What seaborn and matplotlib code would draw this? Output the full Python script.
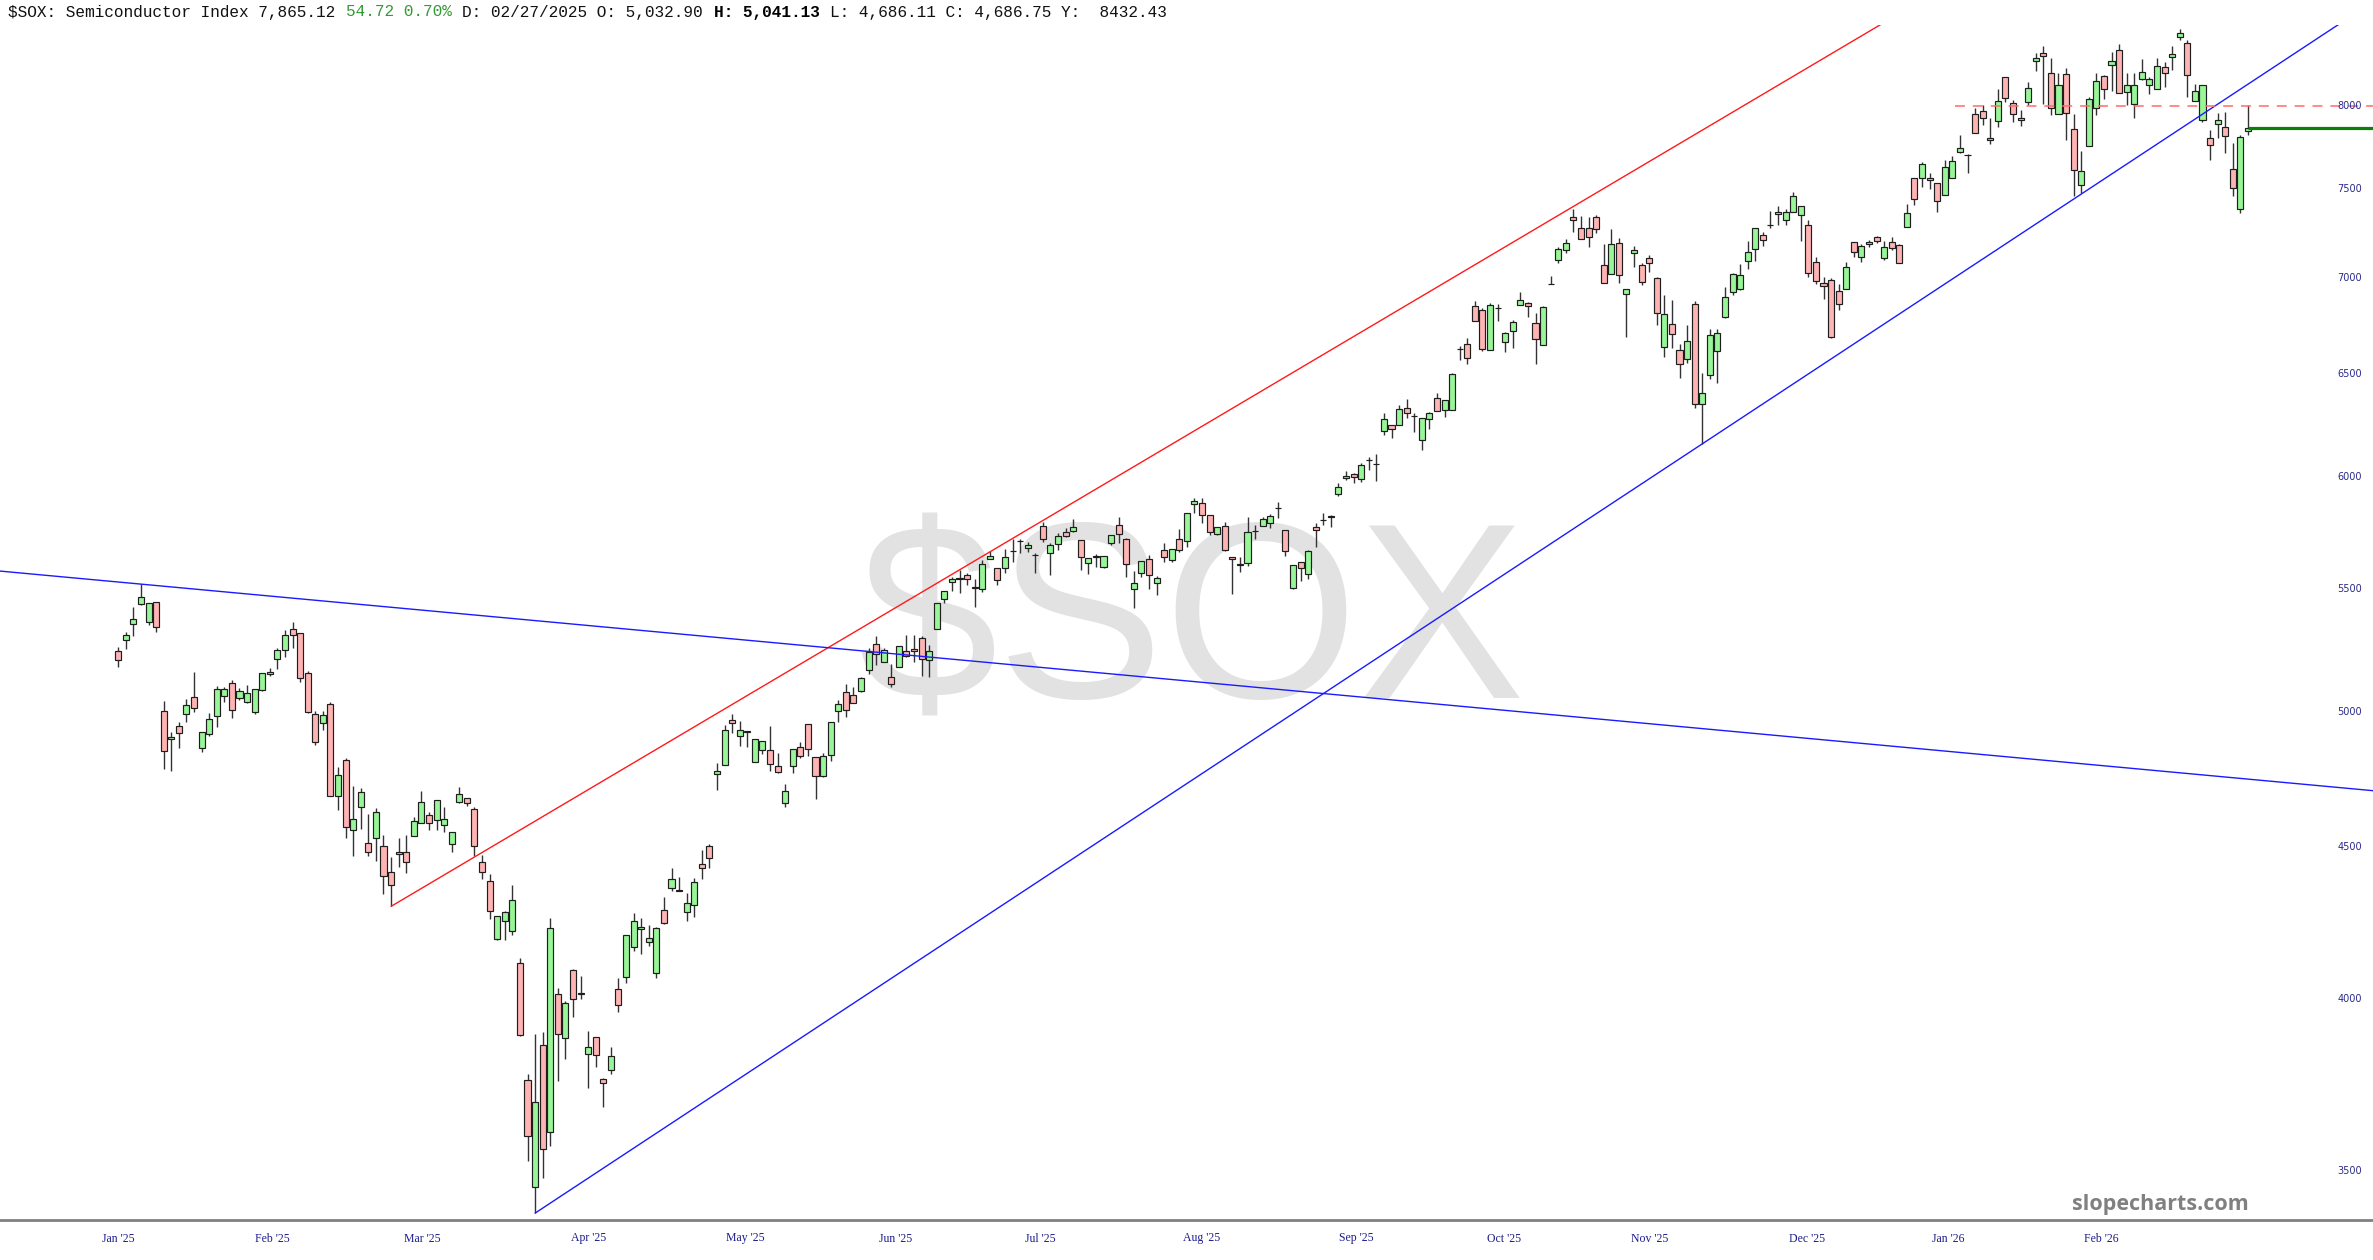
import numpy as np
import matplotlib
matplotlib.use("Agg")
import matplotlib.pyplot as plt
import matplotlib.transforms as mtransforms
from matplotlib.ticker import NullLocator
import seaborn as sns

# daily OHLC of $SOX (one value per trading day)
opens = [
    5242, 5286, 5353, 5434, 5362, 5444, 5003, 4893, 4945, 4991,
    5055, 4862, 4913, 4984, 5060, 5111, 5054, 5038, 4999, 5084,
    5147, 5207, 5244, 5333, 5316, 5150, 4989, 4955, 5029, 4682,
    4814, 4561, 4643, 4515, 4531, 4505, 4413, 4485, 4482, 4541,
    4585, 4613, 4597, 4577, 4512, 4660, 4676, 4637, 4448, 4384,
    4190, 4251, 4215, 4112, 3756, 3456, 3860, 3606, 4016, 3879,
    4091, 4019, 3833, 3884, 3758, 3785, 4030, 4068, 4164, 4224,
    4181, 4080, 4285, 4360, 4352, 4278, 4301, 4441, 4506, 4765,
    4795, 4968, 4906, 4925, 4809, 4852, 4853, 4794, 4656, 4793,
    4864, 4952, 4825, 4757, 4833, 5002, 5075, 5063, 5080, 5165,
    5270, 5197, 5137, 5175, 5240, 5248, 5293, 5204, 5331, 5457,
    5527, 5542, 5560, 5505, 5497, 5630, 5590, 5588, 5663, 5706,
    5675, 5648, 5775, 5656, 5694, 5749, 5752, 5711, 5612, 5640,
    5594, 5700, 5779, 5717, 5497, 5570, 5629, 5523, 5668, 5624,
    5717, 5707, 5875, 5881, 5826, 5738, 5775, 5639, 5606, 5610,
    5752, 5776, 5787, 5855, 5755, 5504, 5614, 5563, 5771, 5801,
    5821, 5919, 6005, 6013, 5989, 6077, 6060, 6216, 6244, 6245,
    6330, 6288, 6173, 6276, 6376, 6319, 6319, 6624, 6651, 6850,
    6832, 6620, 6841, 6660, 6719, 6855, 6864, 6759, 6646, 6968,
    7099, 7155, 7338, 7279, 7279, 7338, 7071, 7021, 7192, 6914,
    7137, 7072, 7109, 6999, 6634, 6754, 6618, 6574, 6861, 6348,
    6491, 6615, 6794, 6923, 6941, 7096, 7161, 7237, 7293, 7356,
    7323, 7367, 7351, 7294, 7090, 6975, 6990, 6932, 6939, 7198,
    7114, 7189, 7226, 7112, 7200, 7183, 7284, 7567, 7567, 7554,
    7540, 7467, 7569, 7722, 7704, 7955, 7969, 7803, 7909, 8182,
    8021, 7915, 8027, 8286, 8338, 8208, 7949, 8202, 7860, 7528,
    7758, 7990, 8191, 8260, 8355, 8090, 8017, 8170, 8133, 8106,
    8246, 8310, 8443, 8400, 8032, 7918, 7803, 7890, 7874, 7620,
    7384, 7845,
]
highs = [
    5257, 5320, 5421, 5520, 5441, 5444, 5040, 4922, 4959, 5048,
    5156, 4920, 4993, 5100, 5097, 5123, 5093, 5105, 5087, 5151,
    5171, 5254, 5327, 5360, 5316, 5161, 5003, 5003, 5036, 4790,
    4822, 4720, 4711, 4618, 4638, 4544, 4466, 4532, 4544, 4606,
    4701, 4625, 4667, 4644, 4554, 4716, 4676, 4644, 4473, 4406,
    4266, 4281, 4370, 4128, 3774, 3893, 3899, 4259, 4033, 3995,
    4093, 4072, 3903, 3884, 3761, 3854, 4065, 4205, 4275, 4261,
    4237, 4231, 4329, 4427, 4396, 4342, 4395, 4491, 4512, 4803,
    4947, 4991, 4965, 4926, 4893, 4887, 4945, 4840, 4727, 4857,
    4884, 4952, 4825, 4843, 4961, 5045, 5108, 5095, 5137, 5252,
    5300, 5252, 5188, 5263, 5306, 5306, 5300, 5265, 5438, 5490,
    5552, 5583, 5566, 5540, 5624, 5664, 5590, 5671, 5715, 5719,
    5704, 5656, 5794, 5697, 5742, 5764, 5805, 5711, 5634, 5650,
    5643, 5734, 5817, 5723, 5577, 5620, 5646, 5556, 5697, 5672,
    5760, 5835, 5904, 5901, 5826, 5771, 5794, 5639, 5639, 5817,
    5779, 5814, 5828, 5883, 5755, 5602, 5617, 5668, 5787, 5832,
    5824, 5972, 6027, 6016, 6063, 6094, 6106, 6305, 6244, 6343,
    6371, 6305, 6281, 6310, 6404, 6368, 6502, 6642, 6681, 6878,
    6841, 6864, 6859, 6715, 6776, 6926, 6873, 6815, 6850, 7013,
    7173, 7214, 7384, 7346, 7342, 7351, 7187, 7272, 7220, 6943,
    7177, 7081, 7127, 7008, 6909, 6882, 6651, 6750, 6878, 6502,
    6727, 6727, 6955, 7030, 7078, 7207, 7276, 7256, 7374, 7405,
    7384, 7485, 7405, 7326, 7118, 7008, 6999, 6968, 7090, 7198,
    7189, 7211, 7233, 7205, 7226, 7187, 7415, 7567, 7662, 7593,
    7540, 7672, 7696, 7823, 7708, 7992, 8007, 7925, 8106, 8182,
    8038, 7976, 8154, 8336, 8382, 8307, 8212, 8240, 7949, 7726,
    8059, 8208, 8197, 8342, 8395, 8208, 8208, 8296, 8181, 8303,
    8281, 8382, 8492, 8422, 8138, 8133, 7854, 7957, 7967, 7773,
    7823, 8010,
]
lows = [
    5176, 5248, 5302, 5431, 5347, 5318, 4780, 4775, 4860, 4958,
    4998, 4844, 4906, 4942, 5038, 4974, 5045, 5034, 4989, 5081,
    5140, 5166, 5218, 5252, 5117, 4995, 4871, 4929, 4682, 4632,
    4532, 4468, 4564, 4471, 4453, 4340, 4298, 4433, 4410, 4538,
    4585, 4559, 4559, 4555, 4482, 4656, 4647, 4468, 4391, 4256,
    4188, 4188, 4204, 3885, 3526, 3387, 3480, 3569, 3754, 3818,
    3943, 3999, 3732, 3793, 3678, 3774, 3961, 4051, 4150, 4141,
    4168, 4065, 4240, 4350, 4348, 4250, 4264, 4389, 4429, 4705,
    4795, 4916, 4869, 4865, 4806, 4838, 4775, 4768, 4644, 4766,
    4822, 4830, 4671, 4753, 4812, 4958, 4977, 5034, 5076, 5148,
    5184, 5195, 5097, 5175, 5218, 5197, 5141, 5137, 5331, 5438,
    5491, 5483, 5516, 5424, 5487, 5627, 5516, 5568, 5617, 5653,
    5658, 5566, 5704, 5559, 5668, 5727, 5749, 5581, 5563, 5592,
    5588, 5692, 5701, 5552, 5417, 5552, 5499, 5473, 5617, 5614,
    5660, 5680, 5832, 5787, 5734, 5734, 5665, 5476, 5573, 5599,
    5719, 5776, 5764, 5810, 5643, 5501, 5534, 5541, 5683, 5779,
    5771, 5911, 5985, 5972, 5976, 6031, 5980, 6197, 6181, 6245,
    6278, 6213, 6126, 6229, 6314, 6286, 6319, 6570, 6547, 6770,
    6617, 6620, 6772, 6611, 6629, 6855, 6790, 6550, 6646, 6967,
    7081, 7137, 7257, 7214, 7170, 7248, 6975, 7021, 6972, 6686,
    7062, 6963, 7035, 6750, 6586, 6629, 6476, 6553, 6327, 6156,
    6471, 6454, 6789, 6909, 6936, 7050, 7096, 7178, 7281, 7298,
    7298, 7367, 7205, 7004, 6968, 6886, 6682, 6829, 6939, 7118,
    7090, 7173, 7192, 7099, 7155, 7081, 7284, 7409, 7514, 7505,
    7370, 7467, 7569, 7716, 7597, 7833, 7884, 7766, 7870, 8027,
    7904, 7878, 8007, 8225, 8017, 7944, 7949, 7793, 7461, 7477,
    7758, 7944, 8048, 8097, 8080, 8007, 7925, 8165, 8076, 8106,
    8122, 8229, 8422, 8059, 8032, 7904, 7672, 7803, 7712, 7462,
    7361, 7823,
]
closes = [
    5204, 5307, 5373, 5464, 5441, 5338, 4849, 4903, 4916, 5027,
    5012, 4920, 4972, 5087, 5087, 5006, 5079, 5073, 5087, 5150,
    5157, 5245, 5305, 5306, 5133, 4999, 4884, 4986, 4682, 4761,
    4571, 4600, 4697, 4485, 4626, 4402, 4371, 4477, 4450, 4594,
    4660, 4587, 4667, 4598, 4554, 4689, 4658, 4506, 4413, 4283,
    4266, 4278, 4318, 3888, 3595, 3691, 3559, 4226, 3891, 3987,
    3999, 4016, 3853, 3829, 3748, 3828, 3981, 4205, 4248, 4231,
    4193, 4226, 4244, 4391, 4350, 4308, 4381, 4427, 4462, 4776,
    4928, 4957, 4929, 4921, 4893, 4887, 4799, 4770, 4700, 4857,
    4830, 4857, 4756, 4829, 4961, 5029, 5007, 5034, 5133, 5238,
    5229, 5245, 5108, 5263, 5221, 5242, 5207, 5240, 5438, 5490,
    5540, 5546, 5542, 5507, 5606, 5642, 5537, 5636, 5665, 5707,
    5691, 5646, 5715, 5690, 5730, 5731, 5771, 5636, 5634, 5638,
    5643, 5734, 5737, 5605, 5523, 5620, 5559, 5545, 5636, 5672,
    5668, 5835, 5890, 5824, 5749, 5771, 5668, 5627, 5604, 5749,
    5754, 5805, 5821, 5857, 5665, 5602, 5590, 5664, 5756, 5803,
    5817, 5954, 5993, 5997, 6055, 6080, 6058, 6273, 6229, 6325,
    6305, 6291, 6281, 6302, 6314, 6368, 6497, 6626, 6582, 6770,
    6624, 6857, 6839, 6710, 6764, 6882, 6850, 6676, 6843, 6971,
    7161, 7192, 7323, 7214, 7225, 7270, 6975, 7187, 7015, 6943,
    7153, 6977, 7081, 6814, 6808, 6703, 6549, 6666, 6348, 6401,
    6698, 6710, 6897, 7021, 7017, 7146, 7276, 7211, 7295, 7371,
    7367, 7461, 7405, 7030, 6986, 6957, 6690, 6861, 7062, 7142,
    7179, 7200, 7205, 7173, 7168, 7081, 7365, 7444, 7648, 7569,
    7432, 7632, 7668, 7742, 7700, 7833, 7928, 7792, 8034, 8052,
    7955, 7925, 8114, 8303, 8318, 7992, 8133, 7959, 7613, 7609,
    8043, 8161, 8106, 8288, 8080, 8133, 8133, 8214, 8170, 8256,
    8212, 8329, 8465, 8197, 8095, 8133, 7763, 7915, 7817, 7509,
    7809, 7865.12,
]

month_labels = ["Jan '25", "Feb '25", "Mar '25", "Apr '25", "May '25", "Jun '25", "Jul '25",
                "Aug '25", "Sep '25", "Oct '25", "Nov '25", "Dec '25", "Jan '26", "Feb '26"]
month_pos = [0, 20.3, 40.1, 62.1, 82.8, 102.6, 121.7, 143.0, 163.3, 182.8, 202.1, 222.8, 241.5, 261.7]
price_levels = [3500, 4000, 4500, 5000, 5500, 6000, 6500, 7000, 7500, 8000]

# drawn trend lines, anchors as (bar index, price)
channel_top = [(36, 4298), (232, 8508)]
channel_bottom = [(55, 3387), (245.6, 7094)]
long_resistance = [(3, 5520), (280, 4747)]
level_8000 = 8000
level_start = 242.4
last_price = 7865.12

sns.set_style("white")
plt.rcParams["font.family"] = ["DejaVu Sans"]

W, H = 2373, 1260
fig = plt.figure(figsize=(W / 100, H / 100), dpi=100)
ax = fig.add_axes([0, 40 / H, 1, (1220 - 25) / H])
ax.set_yscale("log")
x_lo, x_hi = -15.6, 297.5
ax.set_xlim(x_lo, x_hi)
ax.set_ylim(3369, 8521)

idx = np.arange(len(closes))
o = np.array(opens, dtype=float)
c = np.array(closes, dtype=float)
up = c >= o
body_colors = np.where(up, "#98f598", "#ffb4b4")

ax.vlines(idx, lows, highs, color="#333333", linewidth=1.0, zorder=2)
ax.bar(idx, np.abs(c - o), bottom=np.minimum(o, c), width=0.8,
       color=body_colors, edgecolor="#1e1e1e", linewidth=0.85, zorder=3)


def trend(anchors, x0, x1):
    (i0, p0), (i1, p1) = anchors
    slope = (np.log(p1) - np.log(p0)) / (i1 - i0)
    xs = np.array([x0, x1])
    return xs, np.exp(np.log(p0) + slope * (xs - i0))


for anchors, start, end, col in [(channel_top, 36, 245, "#ff1a1a"),
                                 (channel_bottom, 55, 300, "#1a1aff"),
                                 (long_resistance, x_lo - 1, x_hi + 1, "#1a1aff")]:
    xs, ys = trend(anchors, start, end)
    sns.lineplot(x=xs, y=ys, ax=ax, color=col, linewidth=1.0, estimator=None, zorder=4)

ax.hlines(level_8000, level_start, x_hi, colors="#ff6b6b", linewidth=1.1,
          linestyles=(0, (6.5, 5.2)), zorder=4)
ax.hlines(last_price, len(closes) - 1, x_hi, colors="#0a800a", linewidth=2.3, zorder=5)

# right-hand price scale drawn inside the plot
trans = mtransforms.blended_transform_factory(ax.transAxes, ax.transData)
for lv in price_levels:
    ax.text(2362 / W, lv, str(lv), transform=trans, ha="right", va="center",
            fontsize=7, color="#2a2a8a", zorder=6)

# watermark
ax.text(1192 / W, (1220 - 699) / 1195, "$SOX", transform=ax.transAxes, ha="center",
        va="baseline", fontsize=180, color="#e2e2e2", family="Liberation Sans", zorder=0)

ax.text(2160 / W, (1220 - 1210) / 1195, "slopecharts.com", transform=ax.transAxes,
        ha="center", va="baseline", fontsize=15.5, fontweight="bold", color="#808080",
        family="Open Sans", zorder=6)

ax.yaxis.set_major_locator(NullLocator())
ax.yaxis.set_minor_locator(NullLocator())
ax.set_yticks([])
ax.set_xticks(month_pos)
ax.set_xticklabels(month_labels, family="Liberation Serif", fontsize=8.5, color="#1c1c8c")
ax.tick_params(axis="x", length=0, pad=9)
for side in ["top", "left", "right"]:
    ax.spines[side].set_visible(False)
ax.spines["bottom"].set_color("#808080")
ax.spines["bottom"].set_linewidth(2)
ax.set_xlabel("")
ax.set_ylabel("")

# header line, monospaced
header = [
    (0, "$SOX: Semiconductor Index 7,865.12", "#111111", "normal"),
    (35, "54.72 0.70%", "#339933", "normal"),
    (47, "D: 02/27/2025 O: 5,032.90", "#111111", "normal"),
    (73, "H: 5,041.13", "#000000", "bold"),
    (85, "L: 4,686.11 C: 4,686.75 Y:  8432.43", "#111111", "normal"),
]
for n, txt, col, wt in header:
    fig.text((8 + n * 9.67) / W, 1 - 16.5 / H, txt, family="Liberation Mono",
             fontsize=11.6, color=col, fontweight=wt, va="baseline")

fig.savefig("out.png", dpi=100, facecolor="white")
